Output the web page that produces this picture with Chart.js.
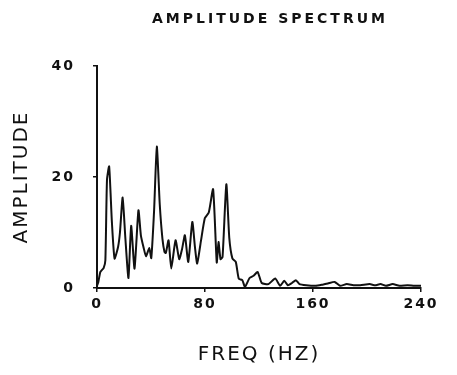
<!DOCTYPE html>
<html>
<head>
<meta charset="utf-8">
<script src="https://cdn.jsdelivr.net/npm/chart.js@4/dist/chart.umd.min.js"></script>
<style>
   html, body { margin: 0; padding: 0; background: #fff; }
   #wrap { width: 457px; height: 375px; position: relative; }
</style>
</head>
<body>
<div id="wrap"><canvas id="specChart"></canvas></div>
<script>
const freq = [0, 1, 2.5, 4.9, 6.2, 7.4, 9, 11, 13, 15.6, 17, 19, 21, 23.3, 25.3, 27.8, 30.7, 32.5, 34.5, 36.3, 38.7, 40.2,
   42.3, 44.3, 46.5, 48.5, 50, 51, 53, 55, 58.2, 60.9, 63, 65.1, 67.6, 70.6, 72.5, 74.2, 77, 79.9, 82.8, 86, 88.7,
   90, 91.5, 93, 95.8, 98, 100.3, 102.8, 105, 107.7, 109.6, 113, 116, 119, 122, 127, 132, 135.7, 138.7, 141.4, 144.4,
   147.3, 150, 155, 162, 167, 171, 176, 180, 185, 190, 195, 202, 206, 210, 214, 219, 224, 230, 235, 240];
const amplitude = [0.4, 1.1, 2.9, 3.6, 5, 19.5, 21.9, 12, 5.3, 7.4, 10, 16.3, 9, 1.8, 11.2, 3.5, 14, 9.5, 7.3, 5.7, 7.2, 5.4,
   14, 25.5, 15, 8.8, 6.5, 6.3, 8.6, 3.5, 8.6, 5.2, 7, 9.5, 4.7, 11.9, 7.5, 4.4, 8.5, 12.6, 13.6, 17.8, 4.6,
   8.3, 5.2, 5.6, 18.7, 9, 5.3, 4.7, 1.7, 1.4, 0.2, 1.8, 2.2, 2.9, 0.9, 0.7, 1.7, 0.4, 1.3, 0.5, 0.9,
   1.4, 0.7, 0.5, 0.4, 0.6, 0.8, 1.1, 0.4, 0.7, 0.5, 0.5, 0.7, 0.5, 0.7, 0.4, 0.7, 0.4, 0.5, 0.4, 0.4];
const xTicks = [0, 80, 160, 240];
const yTicks = [0, 20, 40];

const points = freq.map((f, i) => ({x: f, y: amplitude[i]}));

// spaced plotter-style lettering
const spacing = {
   id: 'spacing',
   beforeDraw(chart){
      chart.ctx.letterSpacing = '2px';
   }
};

const plotTitle = {
   id: 'plotTitle',
   afterDraw(chart){
      const ctx = chart.ctx;
      ctx.save();
      ctx.letterSpacing = '3px';
      ctx.font = 'bold 14px "DejaVu Sans"';
      ctx.fillStyle = '#111';
      ctx.textAlign = 'center';
      ctx.textBaseline = 'middle';
      ctx.fillText('AMPLITUDE SPECTRUM', 270, 19);
      ctx.restore();
   }
};

const specChartE = document.getElementById('specChart').getContext('2d');
const specChart = new Chart(specChartE, {
   type: 'line',
   data: {
      datasets: [
      {
         data: points,
         borderColor: '#111',
         borderWidth: 2,
         pointRadius: 0,
         tension: 0.18,
         fill: false
      }
   ]
   },
   options: {
      responsive: true,
      maintainAspectRatio: false,
      animation: false,
      layout: {
         padding: {top: 66, right: 36, bottom: 8, left: 0}
      },
      plugins: {
         legend: { display: false },
         tooltip: { enabled: false }
      },
      scales: {
         x: {
            type: 'linear',
            min: 0,
            max: 240,
            afterFit: s => { s.height = 79; },
            afterBuildTicks: s => { s.ticks = xTicks.map(v => ({value: v})); },
            border: { display: true, color: '#111', width: 2 },
            grid: { drawOnChartArea: false, color: '#111', tickLength: 4, lineWidth: 1.5 },
            ticks: {
               color: '#111',
               padding: 4,
               maxRotation: 0,
               font: { family: 'DejaVu Sans', size: 14, weight: 'bold' }
            },
            title: {
               display: true,
               text: 'FREQ (HZ)',
               color: '#111',
               padding: {top: 0, bottom: 0},
               font: { family: 'DejaVu Sans', size: 20 }
            }
         },
         y: {
            min: 0,
            max: 40,
            afterFit: s => { s.width = 97; },
            afterBuildTicks: s => { s.ticks = yTicks.map(v => ({value: v})); },
            border: { display: true, color: '#111', width: 2 },
            grid: { drawOnChartArea: false, color: '#111', tickLength: 4, lineWidth: 1.5 },
            ticks: {
               color: '#111',
               padding: 18,
               font: { family: 'DejaVu Sans', size: 14, weight: 'bold' }
            },
            title: {
               display: true,
               text: 'AMPLITUDE',
               color: '#111',
               padding: {top: 10, bottom: 0},
               font: { family: 'DejaVu Sans', size: 20 }
            }
         }
      }
   },
   plugins: [spacing, plotTitle]
});
</script>
</body>
</html>
